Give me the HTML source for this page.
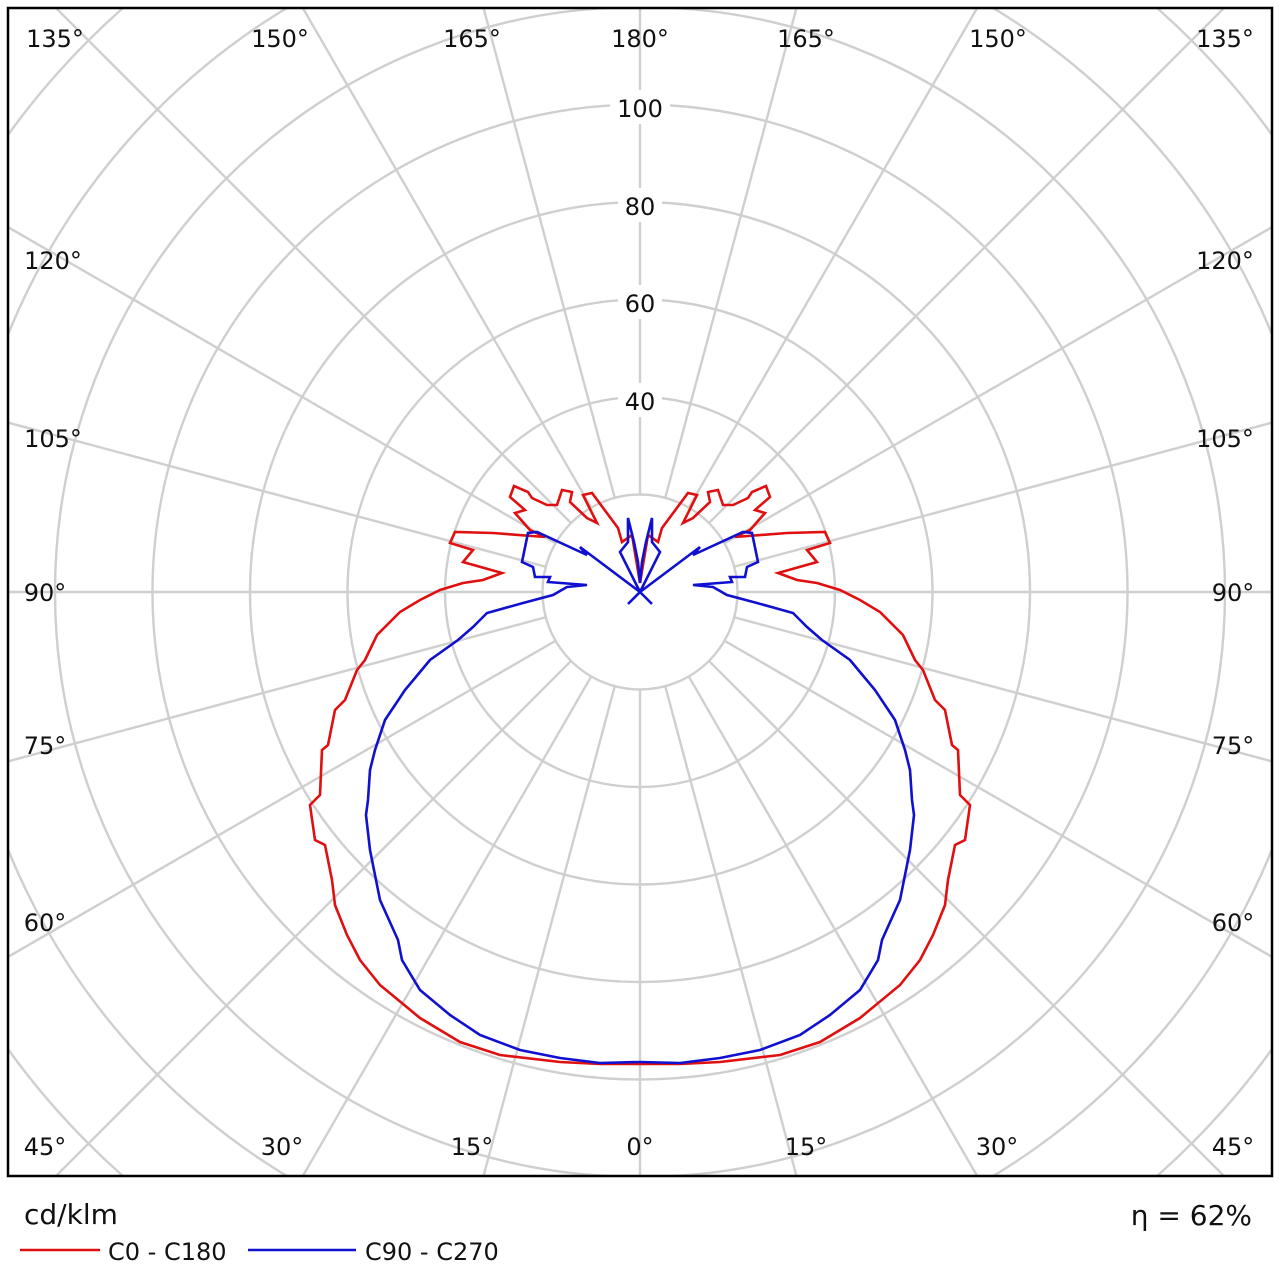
<!DOCTYPE html>
<html><head><style>html,body{margin:0;background:#fff;overflow:hidden;width:1280px;height:1280px}svg{display:block}</style></head><body>
<svg width="1280" height="1280" xmlns="http://www.w3.org/2000/svg" font-family="DejaVu Sans, Liberation Sans, sans-serif">
<defs><clipPath id="c"><rect x="9" y="9" width="1262" height="1166"/></clipPath></defs>
<rect width="1280" height="1280" fill="#fff"/>
<g clip-path="url(#c)" stroke="#cfcfcf" stroke-width="2.4" fill="none">
<circle cx="640" cy="592" r="97.5"/><circle cx="640" cy="592" r="195"/><circle cx="640" cy="592" r="292.5"/><circle cx="640" cy="592" r="390"/><circle cx="640" cy="592" r="487.5"/><circle cx="640" cy="592" r="585"/><circle cx="640" cy="592" r="682.5"/><circle cx="640" cy="592" r="780"/><circle cx="640" cy="592" r="877.5"/>
<g id="sp">
<line x1="640" y1="689.5" x2="640" y2="1600"/>
<line x1="640" y1="689.5" x2="640" y2="1600" transform="rotate(15 640 592)"/>
<line x1="640" y1="689.5" x2="640" y2="1600" transform="rotate(30 640 592)"/>
<line x1="640" y1="689.5" x2="640" y2="1600" transform="rotate(45 640 592)"/>
<line x1="640" y1="689.5" x2="640" y2="1600" transform="rotate(60 640 592)"/>
<line x1="640" y1="689.5" x2="640" y2="1600" transform="rotate(75 640 592)"/>
<line x1="640" y1="689.5" x2="640" y2="1600" transform="rotate(90 640 592)"/>
<line x1="640" y1="689.5" x2="640" y2="1600" transform="rotate(105 640 592)"/>
<line x1="640" y1="689.5" x2="640" y2="1600" transform="rotate(120 640 592)"/>
<line x1="640" y1="689.5" x2="640" y2="1600" transform="rotate(135 640 592)"/>
<line x1="640" y1="689.5" x2="640" y2="1600" transform="rotate(150 640 592)"/>
<line x1="640" y1="689.5" x2="640" y2="1600" transform="rotate(165 640 592)"/>
</g>
<use href="#sp" transform="rotate(180 640 592)"/>
</g>
<g fill="#fff" stroke="none">
<rect x="610" y="90" width="60" height="34"/><rect x="618" y="188" width="44" height="34"/><rect x="618" y="285" width="44" height="34"/><rect x="618" y="383" width="44" height="34"/>
</g>
<g font-size="24" fill="#111" text-anchor="middle">
<text x="640" y="117">100</text><text x="640" y="215">80</text><text x="640" y="312">60</text><text x="640" y="410">40</text>
<text x="55" y="47">135°</text><text x="280" y="47">150°</text><text x="472" y="47">165°</text><text x="640" y="47">180°</text><text x="806" y="47">165°</text><text x="998" y="47">150°</text><text x="1225" y="47">135°</text>
<text x="53" y="269">120°</text><text x="1225" y="269">120°</text>
<text x="53" y="447">105°</text><text x="1225" y="447">105°</text>
<text x="45" y="601">90°</text><text x="1233" y="601">90°</text>
<text x="45" y="754">75°</text><text x="1233" y="754">75°</text>
<text x="45" y="931">60°</text><text x="1233" y="931">60°</text>
<text x="45" y="1155">45°</text><text x="282" y="1155">30°</text><text x="472" y="1155">15°</text><text x="640" y="1155">0°</text><text x="806" y="1155">15°</text><text x="997" y="1155">30°</text><text x="1233" y="1155">45°</text>
</g>
<rect x="8" y="8" width="1264" height="1168" fill="none" stroke="#000" stroke-width="2.5"/>
<g id="red" fill="none" stroke="#e01010" stroke-width="2.6" stroke-linejoin="miter">
<polyline points="640,583 645,553 648,535 658,542 662,528 688,493 697,495 683,523 693,518 710,502 708,492 718,490 723,505 733,505 748,498 752,492 766,486 770,497 755,510 765,513 750,530 735,537 787,533 825,532 830,543 807,550 817,562 778,573 797,580 817,583 840,590 860,600 880,612 903,635 915,660 923,670 935,700 945,710 952,745 958,750 960,795 970,805 965,840 955,845 948,880 945,905 933,935 920,960 900,985 860,1018 820,1042 780,1055 720,1062 680,1064 640,1064"/>
</g>
<use href="#red" transform="translate(1280 0) scale(-1 1)"/>
<g id="blue" fill="none" stroke="#1010d0" stroke-width="2.6">
<polyline points="628,604 640,592 660,552 652,542 652,518 646,542 642,562 640,583"/>
<polyline points="640,592 700,547 693,555 743,532 752,533 758,562 747,567 745,577 730,577 732,582 693,585 713,587 727,595 757,603 793,613 800,620 807,627 822,640 850,660 875,690 895,720 905,750 910,770 912,800 914,815 910,850 900,900 882,940 878,960 860,990 830,1015 800,1035 760,1050 720,1058 680,1063 640,1062"/>
</g>
<use href="#blue" transform="translate(1280 0) scale(-1 1)"/>
<text x="24" y="1224" font-size="28" fill="#111">cd/klm</text>
<line x1="20" y1="1250" x2="100" y2="1250" stroke="#e01010" stroke-width="2.6"/>
<text x="108" y="1260" font-size="24" fill="#111">C0 - C180</text>
<line x1="248" y1="1250" x2="356" y2="1250" stroke="#1010d0" stroke-width="2.6"/>
<text x="365" y="1260" font-size="24" fill="#111">C90 - C270</text>
<text x="1252" y="1225" font-size="28" fill="#111" text-anchor="end">η = 62%</text>
</svg>
</body></html>
